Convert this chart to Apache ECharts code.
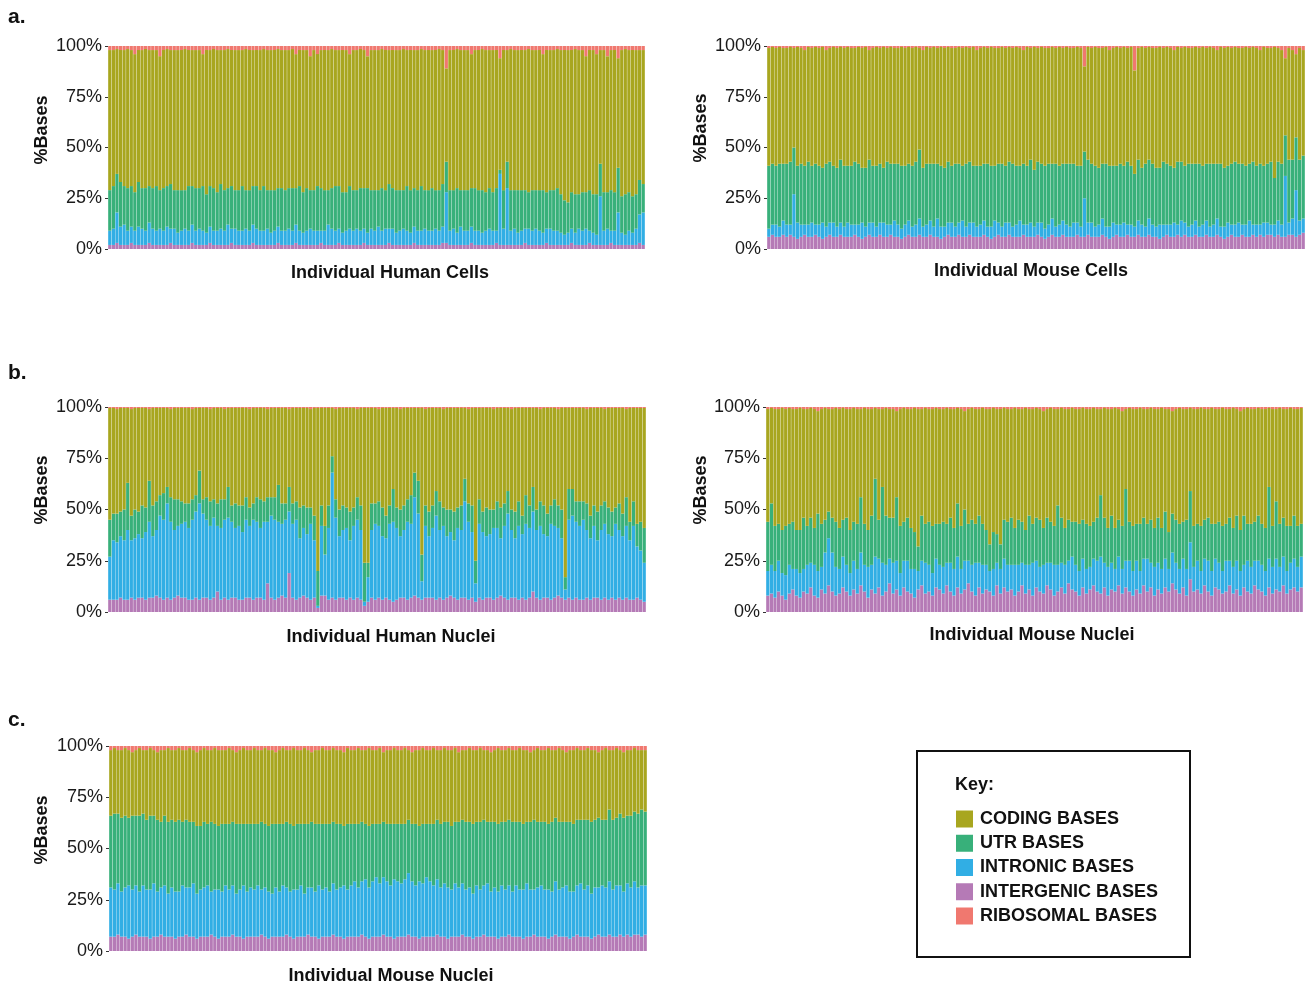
<!DOCTYPE html>
<html>
<head>
<meta charset="utf-8">
<title>Read base composition per cell and nucleus</title>
<script src="https://cdn.jsdelivr.net/npm/echarts@6/dist/echarts.min.js"></script>
<style>
  html, body { margin: 0; padding: 0; background: #ffffff; }
  #chart { width: 1307px; height: 987px; }
</style>
</head>
<body>
<div id="chart"></div>
<script>
// Percent of bases per sample: intergenic, intronic, UTR and ribosomal.
// Coding is the remainder up to 100%.

// a. Individual Human Cells
const humanCellsIntergenic = [
  2,2,3,2,2,2,3,2,2,2, 2,3,2,2,2,2,2,3,2,2, 2,2,2,3,2,2,2,2,3,2, 2,2,2,2,3,2,2,2,2,2, 3,2,2,2,2,2,2,3,2,2,
  2,2,3,2,2,2,2,2,2,3, 2,2,2,2,3,2,2,2,2,2, 2,3,2,2,2,2,2,2,3,2, 2,2,2,2,2,3,2,2,2,2, 2,2,2,3,3,2,2,2,2,2,
  2,3,2,2,2,2,2,2,3,2, 2,2,2,2,2,2,3,2,2,2, 2,2,3,2,2,2,2,2,2,3, 2,2,2,2,3,2,2,2,2,2, 3,2,2,2,2,2,2,2,3,2
];
const humanCellsIntronic = [
  7,8,15,9,10,7,8,7,9,8, 7,10,8,7,8,7,9,7,8,6, 7,8,7,9,7,8,7,6,8,7, 7,8,7,10,7,8,7,7,8,7, 9,8,7,7,8,6,7,8,7,7,
  8,7,9,7,6,7,8,7,7,6, 7,10,8,7,7,6,7,8,7,8, 7,7,6,8,7,9,7,8,7,8, 6,7,8,7,6,8,7,7,8,7, 7,8,7,8,25,7,8,6,9,7,
  7,8,7,7,6,7,8,7,6,35, 8,28,7,8,6,7,7,8,7,8, 7,6,7,8,7,7,6,5,6,7, 6,8,7,8,6,6,5,24,7,8, 6,7,16,6,5,7,6,8,14,16
];
const humanCellsUtr = [
  20,21,19,22,19,21,20,19,22,20, 21,18,20,22,19,21,20,22,19,21, 20,19,22,19,21,20,22,19,20,21, 19,22,20,18,21,19,20,22,19,20, 19,21,20,22,19,21,20,19,21,20,
  20,21,18,22,20,21,19,20,22,21, 20,17,20,22,21,20,19,21,20,19, 21,20,22,19,20,18,21,19,22,20, 21,20,19,22,21,19,20,22,19,20, 21,19,20,21,15,20,19,22,18,20,
  20,19,21,20,21,19,20,19,21,2, 19,13,20,19,21,20,19,18,20,19, 20,21,18,19,20,21,19,17,15,18, 19,17,19,18,20,19,20,16,19,18, 20,19,22,18,20,19,18,17,17,14
];
const humanCellsRibosomal = [
  2,2,1.5,2,2,1.5,2,4,2,2, 1.5,2,2,2,5,2,1.5,2,2,2, 2,1.5,2,2,2,2,4,2,2,1.5, 2,2,2,1.5,2,2,2,2,1.5,2, 2,2,2,1.5,2,2,2,1.5,2,2,
  2,1.5,4,2,2,2,5,2,4,2, 2,2,1.5,2,2,2,2,4,2,2, 1.5,2,5,2,2,2,1.5,2,2,2, 2,2,1.5,2,2,2,2,1.5,2,2, 2,2,1.5,2,11,2,2,1.5,2,2,
  2,4,2,2,1.5,2,2,2,2,6, 2,2,1.5,2,2,2,2,1.5,2,2, 2,4,2,2,2,1.5,2,2,2,2, 1.5,2,2,5,2,2,4,2,2,5, 2,2,6,2,1.5,2,2,2,2,2
];

// a. Individual Mouse Cells
const mouseCellsIntergenic = [
  6,7,6,6,7,6,7,6,5,6, 7,6,6,7,6,5,6,7,6,6, 7,6,6,6,7,6,5,6,7,6, 6,7,6,6,7,6,6,5,6,7, 6,6,7,6,6,7,6,6,5,6,
  7,6,6,7,6,6,7,6,6,6, 7,6,5,6,7,6,6,7,6,6, 6,7,6,6,6,7,6,5,6,7, 6,6,7,6,6,6,7,6,6,7, 6,6,6,7,6,5,6,7,6,6,
  7,6,6,7,6,6,7,6,6,5, 6,7,6,6,7,6,7,6,6,7, 6,6,7,6,6,7,6,5,6,7, 6,6,7,6,6,7,6,7,6,7, 7,6,7,6,6,7,7,6,7,8
];
const mouseCellsIntronic = [
  4,5,6,5,7,6,5,21,8,6, 5,6,7,5,6,8,5,6,7,5, 6,5,7,6,5,6,8,5,6,7, 5,6,7,6,5,8,6,5,6,7, 5,6,8,5,6,7,5,9,6,5,
  6,7,5,6,8,5,6,7,5,6, 7,5,6,8,6,5,7,6,5,6, 8,5,6,7,5,6,7,5,6,8, 5,6,7,6,5,7,6,5,19,6, 7,5,6,8,5,6,7,5,6,7,
  5,6,5,7,6,5,8,6,5,7, 6,5,6,7,5,8,6,5,6,7, 5,6,7,5,6,8,5,6,7,5, 6,7,5,6,8,5,6,5,7,6, 5,6,7,6,30,6,8,23,7,7
];
const mouseCellsUtr = [
  31,30,29,31,28,30,31,23,28,30, 29,31,28,30,29,27,31,30,28,29, 31,30,28,29,31,30,27,29,31,28, 30,29,27,31,30,28,30,31,29,28, 30,31,34,29,30,28,31,27,30,29,
  30,28,31,29,27,31,30,28,30,29, 28,31,30,27,29,31,28,30,31,29, 27,30,29,31,28,30,29,31,30,27, 31,29,28,30,31,29,28,30,23,31, 29,30,28,27,31,30,28,29,30,28,
  31,29,26,30,28,31,29,30,29,28, 31,30,29,27,31,29,28,31,30,28, 31,29,28,31,30,27,31,29,28,30, 31,29,30,29,28,31,29,30,28,29, 31,23,29,30,20,31,29,26,30,31
];
const mouseCellsRibosomal = [
  1,0.5,1,0.5,1,1,0.5,1,0.5,1, 2,0.5,1,0.5,1,0.5,2,1,0.5,1, 0.5,1,0.5,1,1,0.5,1,0.5,2,1, 0.5,1,0.5,1,0.5,1,1,0.5,1,0.5, 1,0.5,1,2,0.5,1,0.5,1,0.5,1,
  0.5,1,1,0.5,1,0.5,1,0.5,2,1, 0.5,1,0.5,1,1,0.5,1,0.5,1,0.5, 1,2,0.5,1,0.5,1,0.5,1,1,0.5, 1,0.5,1,0.5,1,1,0.5,1,10,0.5, 1,0.5,1,1,0.5,2,1,0.5,1,0.5,
  1,0.5,12,1,0.5,1,0.5,1,1,0.5, 1,0.5,1,2,0.5,1,0.5,1,1,0.5, 1,0.5,1,0.5,1,2,0.5,1,0.5,1, 0.5,1,1,0.5,1,0.5,1,2,0.5,1, 1,0.5,1,2,6,1,2,4,1,2
];

// b. Individual Human Nuclei
const humanNucleiIntergenic = [
  6,6,6,7,6,6,7,6,7,7, 6,7,7,8,7,6,7,6,7,8, 7,7,6,6,7,6,7,7,6,7, 10,6,7,6,7,7,6,6,7,7, 6,7,7,6,14,7,6,7,8,7,
  19,7,6,7,8,7,6,7,2,8, 8,6,7,6,7,7,6,7,6,7, 6,3,5,7,6,7,6,7,6,5, 6,7,7,6,7,8,7,6,7,7, 7,6,7,6,7,8,7,6,7,7,
  6,7,5,7,6,7,7,6,7,8, 7,6,7,7,6,7,6,7,10,7, 6,7,7,6,7,8,7,6,7,6, 7,6,6,7,6,7,7,6,7,6, 7,6,7,6,7,6,6,7,6,5
];
const humanNucleiIntronic = [
  21,29,28,30,29,34,28,30,31,29, 33,37,30,32,40,39,46,38,33,34, 36,37,35,39,42,47,41,38,36,39, 32,35,38,40,37,34,36,33,38,35, 39,37,34,38,30,40,39,37,35,38,
  30,36,39,29,33,31,37,28,1,34, 20,35,61,40,30,33,35,28,36,38, 34,2,12,33,37,35,31,29,37,39, 35,30,33,38,36,48,41,9,35,30, 34,41,33,36,30,31,28,35,33,47,
  38,32,9,36,33,30,31,35,34,28, 35,42,33,29,36,31,37,34,39,33, 36,31,30,37,35,33,29,5,38,41, 37,36,39,33,30,35,28,34,36,32, 30,37,33,31,35,29,36,25,24,19
];
const humanNucleiUtr = [
  18,13,14,12,15,23,12,14,11,16, 12,20,15,14,10,13,8,12,15,13, 11,9,12,10,8,16,7,11,12,9, 11,14,10,15,8,12,10,13,11,9, 8,12,14,10,12,9,11,18,10,8,
  12,10,9,15,11,13,8,12,17,10, 14,11,8,9,13,12,10,14,9,11, 12,19,7,13,10,12,14,11,9,16, 10,13,12,11,14,12,16,13,10,12, 11,12,14,9,13,11,14,10,12,11,
  9,13,11,12,10,14,12,9,13,15, 11,11,10,13,12,9,14,11,12,10, 12,14,11,9,13,11,14,6,15,13, 10,12,9,13,11,10,14,12,11,13, 12,8,13,11,14,9,12,11,14,17
];
const humanNucleiRibosomal = [
  0.5,0.5,1,0.5,0.5,0.5,1,0.5,0.5,0.5, 0.5,1,0.5,0.5,0.5,0.5,0.5,1,0.5,0.5, 0.5,0.5,0.5,1,0.5,0.5,0.5,0.5,1,0.5, 0.5,0.5,1,0.5,0.5,0.5,0.5,0.5,0.5,1, 0.5,0.5,0.5,0.5,1,0.5,0.5,0.5,0.5,0.5,
  1,0.5,0.5,0.5,0.5,0.5,1,0.5,0.5,0.5, 0.5,0.5,0.5,1,0.5,0.5,0.5,0.5,0.5,1, 0.5,0.5,0.5,0.5,0.5,1,0.5,0.5,0.5,0.5, 0.5,1,0.5,0.5,0.5,0.5,0.5,0.5,1,0.5, 0.5,0.5,0.5,1,0.5,0.5,0.5,0.5,0.5,0.5,
  1,0.5,0.5,0.5,0.5,0.5,0.5,1,0.5,0.5, 0.5,0.5,1,0.5,0.5,0.5,0.5,0.5,0.5,0.5, 1,0.5,0.5,0.5,0.5,1,0.5,0.5,0.5,0.5, 0.5,0.5,0.5,1,0.5,0.5,0.5,0.5,1,0.5, 0.5,0.5,0.5,0.5,1,0.5,0.5,0.5,0.5,0.5
];

// b. Individual Mouse Nuclei
const mouseNucleiIntergenic = [
  8,9,7,10,8,6,9,11,8,7, 10,9,12,8,7,11,9,13,10,8, 9,12,10,8,11,9,13,10,7,11, 9,12,8,10,14,9,11,8,12,10, 9,7,11,13,9,10,8,12,11,9,
  13,10,8,12,9,11,14,10,8,12, 9,11,10,8,13,9,12,10,11,8, 10,13,9,11,8,12,10,9,13,11, 8,10,12,9,14,11,10,8,12,9, 11,13,10,9,12,8,11,10,13,9,
  12,10,8,11,9,13,10,12,8,11, 9,12,10,14,11,9,12,8,16,10, 11,9,13,10,8,12,11,9,10,13, 9,11,8,12,10,9,13,11,10,8, 12,9,11,10,13,9,11,12,10,12
];
const mouseNucleiIntronic = [
  12,14,13,15,11,12,14,10,13,12, 11,14,12,15,13,11,20,23,19,14, 12,15,13,11,14,12,16,13,15,12, 18,14,16,13,12,15,14,11,13,15, 12,14,9,12,15,13,11,14,12,13,
  11,14,13,15,12,14,11,13,16,12, 14,12,10,13,11,12,14,13,12,15, 13,11,14,12,16,13,12,14,11,13, 15,13,12,14,11,16,13,12,14,12, 11,13,15,18,12,14,13,11,14,12,
  13,15,12,14,11,13,16,12,14,13, 12,14,11,15,13,12,14,13,18,12, 14,11,13,15,12,14,13,11,15,12, 13,14,12,11,15,13,12,14,13,12, 14,13,15,12,14,11,13,14,12,15
];
const mouseNucleiUtr = [
  24,30,22,18,21,24,20,23,19,21, 25,19,22,18,28,21,16,13,17,22, 20,18,23,21,19,22,27,20,18,24, 38,19,37,24,20,22,31,23,19,21, 20,18,12,22,19,21,23,17,20,22,
  19,22,20,26,21,25,18,22,19,23, 20,17,13,18,14,12,19,21,23,18, 22,20,17,24,19,21,23,18,22,20, 19,29,22,18,20,17,21,23,19,22, 20,18,21,30,22,19,23,20,18,21,
  35,19,22,18,23,20,17,21,19,22, 20,23,18,19,21,22,18,24,25,20, 18,22,19,21,23,17,20,22,18,21, 19,22,20,24,18,21,19,22,20,21, 35,20,28,21,19,22,18,21,20,16
];
const mouseNucleiRibosomal = [
  1,0.5,1,1,0.5,1,0.5,1,1,0.5, 1,1,0.5,1,2,1,0.5,1,1,0.5, 1,0.5,1,1,0.5,1,1,0.5,1,1, 0.5,1,1,0.5,1,1,2,1,0.5,1, 1,0.5,1,1,0.5,1,1,0.5,1,1,
  0.5,1,1,0.5,1,2,1,0.5,1,1, 0.5,1,1,0.5,1,1,0.5,1,1,0.5, 1,1,0.5,1,1,0.5,1,2,1,0.5, 1,1,0.5,1,1,0.5,1,1,0.5,1, 1,0.5,1,1,0.5,1,1,0.5,1,2,
  1,0.5,1,1,0.5,1,1,0.5,1,1, 0.5,1,1,2,1,0.5,1,1,0.5,1, 1,0.5,1,1,0.5,1,1,0.5,1,1, 0.5,1,2,1,0.5,1,1,0.5,1,1, 0.5,1,1,0.5,1,1,0.5,1,1,0.5
];

// c. Individual Mouse Nuclei
const mouseNucleiCIntergenic = [
  7,7,8,7,7,6,7,8,7,7, 7,6,7,7,8,7,7,7,6,7, 7,8,7,7,6,7,7,7,8,7, 6,7,7,7,8,7,7,6,7,7, 7,7,8,7,6,7,7,7,7,8,
  7,6,7,7,7,8,7,7,6,7, 7,7,8,7,7,6,7,7,7,7, 8,7,6,7,7,7,8,7,7,6, 7,7,7,8,7,7,6,7,7,7, 7,8,7,7,6,7,7,7,8,7,
  7,6,7,7,8,7,7,7,6,7, 7,8,7,7,7,6,7,7,8,7, 7,7,6,7,8,7,7,7,6,7, 8,7,7,7,6,7,8,7,7,8, 7,7,8,7,8,7,8,8,7,8
];
const mouseNucleiCIntronic = [
  24,23,25,22,24,26,23,24,22,25, 23,24,26,22,23,25,21,24,23,22, 25,23,24,26,22,23,24,25,21,23, 24,22,25,23,24,21,23,26,22,24, 23,25,22,24,23,21,24,22,25,23,
  22,24,23,25,21,23,24,22,26,23, 24,22,25,23,24,26,23,25,27,24, 26,28,25,27,29,26,28,27,25,29, 27,26,28,30,27,25,28,26,29,27, 25,27,24,26,25,23,26,24,25,23,
  24,22,25,23,24,26,22,24,23,25, 23,24,22,25,23,24,26,23,22,24, 25,23,24,22,26,23,24,25,23,22, 24,26,23,25,22,24,23,25,24,26, 23,25,24,22,25,24,26,23,25,24
];
const mouseNucleiCUtr = [
  35,37,34,36,35,33,36,34,37,35, 34,36,33,35,32,34,35,33,34,35, 31,33,32,30,33,31,32,30,34,32, 31,33,30,32,31,34,32,30,33,31, 32,30,33,31,32,34,31,33,30,32,
  33,31,32,30,34,31,32,33,30,32, 31,33,30,32,31,29,32,30,28,31, 29,27,30,28,26,29,27,28,30,27, 28,29,27,26,28,30,27,29,26,28, 30,29,31,30,32,31,30,32,31,33,
  32,34,31,33,32,30,34,32,33,31, 33,32,34,31,33,32,30,33,34,32, 31,33,32,34,31,33,32,31,34,33, 32,31,34,32,35,33,34,32,33,35, 34,33,35,36,33,35,34,36,37,36
];
const mouseNucleiCRibosomal = [
  2,1,2,2,1,2,3,2,1,2, 2,1,2,3,2,2,1,2,2,1, 2,2,1,2,3,2,1,2,2,1, 2,2,2,1,2,3,2,1,2,2, 1,2,2,1,2,2,3,2,1,2,
  2,1,2,2,1,2,3,2,2,1, 2,2,1,2,2,3,1,2,2,1, 2,2,1,2,2,1,3,2,2,1, 2,2,1,2,3,2,2,1,2,2, 1,2,2,1,2,2,1,3,2,2,
  1,2,2,1,2,2,3,2,1,2, 2,1,2,2,1,2,2,3,2,1, 2,2,1,2,2,1,2,3,2,2, 1,2,2,1,2,2,3,2,1,2, 2,1,2,3,2,2,1,2,2,2
];

const categoryNames = ['CODING BASES', 'UTR BASES', 'INTRONIC BASES', 'INTERGENIC BASES', 'RIBOSOMAL BASES'];
const yTickLabels = ['0%', '25%', '50%', '75%', '100%'];
const panelTitles = ['Individual Human Cells', 'Individual Mouse Cells', 'Individual Human Nuclei', 'Individual Mouse Nuclei', 'Individual Mouse Nuclei'];
const panelLetters = ['a.', 'b.', 'c.'];

const colors = {
  'CODING BASES': '#A8A61F',
  'UTR BASES': '#38B07A',
  'INTRONIC BASES': '#31AEE4',
  'INTERGENIC BASES': '#B57AB6',
  'RIBOSOMAL BASES': '#F0786F'
};

const FONT = '"Liberation Sans", Arial, Helvetica, sans-serif';
const INK = '#111111';

const panels = [
  { inter: humanCellsIntergenic, intron: humanCellsIntronic, utr: humanCellsUtr, ribo: humanCellsRibosomal,
    grid: { left: 108, top: 46, width: 537, height: 203 }, yTitle: [42, 130], xTitle: [390, 273] },
  { inter: mouseCellsIntergenic, intron: mouseCellsIntronic, utr: mouseCellsUtr, ribo: mouseCellsRibosomal,
    grid: { left: 767, top: 46, width: 538, height: 203 }, yTitle: [701, 128], xTitle: [1031, 271] },
  { inter: humanNucleiIntergenic, intron: humanNucleiIntronic, utr: humanNucleiUtr, ribo: humanNucleiRibosomal,
    grid: { left: 108, top: 407, width: 538, height: 205 }, yTitle: [42, 490], xTitle: [391, 637] },
  { inter: mouseNucleiIntergenic, intron: mouseNucleiIntronic, utr: mouseNucleiUtr, ribo: mouseNucleiRibosomal,
    grid: { left: 766, top: 407, width: 537, height: 205 }, yTitle: [701, 490], xTitle: [1032, 635] },
  { inter: mouseNucleiCIntergenic, intron: mouseNucleiCIntronic, utr: mouseNucleiCUtr, ribo: mouseNucleiCRibosomal,
    grid: { left: 109, top: 746, width: 538, height: 205 }, yTitle: [42, 830], xTitle: [391, 976] }
];

const grids = [], xAxes = [], yAxes = [], series = [], graphics = [];

panels.forEach((p, k) => {
  const idx = p.inter.map((_, i) => 'cell' + (i + 1));
  const coding = p.inter.map((v, i) => +(100 - v - p.intron[i] - p.utr[i] - p.ribo[i]).toFixed(2));

  grids.push(p.grid);
  xAxes.push({ type: 'category', gridIndex: k, data: idx, show: false });
  yAxes.push({
    type: 'value', gridIndex: k, min: 0, max: 100, interval: 25,
    axisLine: { show: false },
    splitLine: { show: false },
    axisTick: { show: true, length: 3, lineStyle: { color: '#333', width: 1 } },
    axisLabel: {
      margin: 6, fontSize: 18, color: '#1a1a1a', fontFamily: FONT,
      formatter: v => yTickLabels[Math.round(v / 25)]
    }
  });

  const stacks = [
    ['INTERGENIC BASES', p.inter],
    ['INTRONIC BASES', p.intron],
    ['UTR BASES', p.utr],
    ['CODING BASES', coding],
    ['RIBOSOMAL BASES', p.ribo]
  ];
  stacks.forEach(([name, values]) => {
    series.push({
      name, type: 'bar', stack: 'panel' + k,
      xAxisIndex: k, yAxisIndex: k,
      data: values,
      barCategoryGap: '10%',
      itemStyle: { color: colors[name] },
      silent: true
    });
  });

  graphics.push({
    type: 'text', x: p.yTitle[0], y: p.yTitle[1], rotation: Math.PI / 2,
    style: { text: '%Bases', font: 'bold 18px ' + FONT, fill: INK, textAlign: 'center', textVerticalAlign: 'middle' }
  });
  graphics.push({
    type: 'text', x: p.xTitle[0], y: p.xTitle[1],
    style: { text: panelTitles[k], font: 'bold 18px ' + FONT, fill: INK, textAlign: 'center', textVerticalAlign: 'middle' }
  });
});

// Panel letters
[[8, 17], [8, 373], [8, 720]].forEach(([x, y], i) => {
  graphics.push({
    type: 'text', x, y,
    style: { text: panelLetters[i], font: 'bold 21px ' + FONT, fill: INK, textAlign: 'left', textVerticalAlign: 'middle' }
  });
});

// Key box
graphics.push({
  type: 'rect', shape: { x: 917, y: 751, width: 273, height: 206 },
  style: { fill: 'none', stroke: INK, lineWidth: 2 }, z: 0
});
graphics.push({
  type: 'text', x: 955, y: 785,
  style: { text: 'Key:', font: 'bold 18px ' + FONT, fill: INK, textAlign: 'left', textVerticalAlign: 'middle' }
});

const chart = echarts.init(document.getElementById('chart'), null, { renderer: 'canvas' });
chart.setOption({
  animation: false,
  backgroundColor: '#ffffff',
  grid: grids,
  xAxis: xAxes,
  yAxis: yAxes,
  legend: {
    data: categoryNames,
    orient: 'vertical',
    left: 956, top: 810,
    itemWidth: 17, itemHeight: 17, itemGap: 6.25,
    icon: 'rect',
    selectedMode: false,
    padding: 0,
    textStyle: { fontSize: 18, fontWeight: 'bold', color: INK, fontFamily: FONT, lineHeight: 18, padding: [0, 0, 0, 2] }
  },
  graphic: graphics,
  series
});
</script>
</body>
</html>
